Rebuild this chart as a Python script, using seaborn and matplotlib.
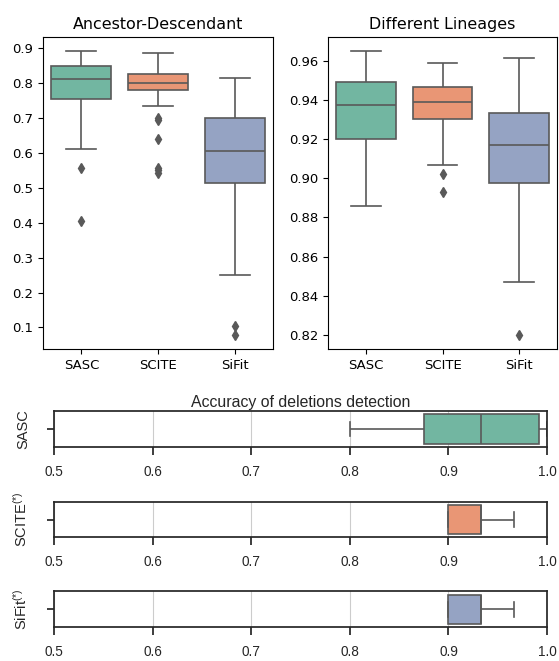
import matplotlib
matplotlib.use("Agg")
import matplotlib.pyplot as plt
import seaborn as sns
import pandas as pd

# box summaries: [whisker_lo, q1, median, q3, whisker_hi]
methods = ["SASC", "SCITE", "SiFit"]

anc_sasc = [0.612, 0.753, 0.812, 0.848, 0.891]
anc_scite = [0.734, 0.780, 0.801, 0.825, 0.887]
anc_sifit = [0.251, 0.514, 0.605, 0.699, 0.814]
anc_outliers = [[0.557, 0.406],
                [0.700, 0.694, 0.640, 0.558, 0.550, 0.541],
                [0.103, 0.079]]

lin_sasc = [0.8858, 0.9199, 0.9375, 0.9493, 0.9650]
lin_scite = [0.9066, 0.9304, 0.9389, 0.9467, 0.9591]
lin_sifit = [0.8470, 0.8977, 0.9170, 0.9333, 0.9615]
lin_outliers = [[], [0.902, 0.893], [0.820]]

del_sasc = [0.800, 0.875, 0.933, 0.992, 1.000]
del_scite = [0.900, 0.900, 0.933, 0.933, 0.967]
del_sifit = [0.900, 0.900, 0.933, 0.933, 0.967]
del_labels = ["SASC", "SCITE$^{(*)}$", "SiFit$^{(*)}$"]
del_ticks = [0.5, 0.6, 0.7, 0.8, 0.9, 1.0]


def expand(stats, outliers=(), m=20):
    """Turn a five-number summary into samples that reproduce it."""
    lo, q1, med, q3, hi = stats
    return [lo] + [q1] * m + [med] * m + [q3] * m + [hi] + list(outliers)


def to_frame(groups, outliers):
    rows = []
    for name, stats, out in zip(methods, groups, outliers):
        for v in expand(stats, out):
            rows.append({"method": name, "value": v})
    return pd.DataFrame(rows)


plt.rcParams["font.family"] = "DejaVu Sans"
plt.rcParams["font.size"] = 9.5
plt.rcParams["mathtext.fontset"] = "custom"
plt.rcParams["mathtext.rm"] = "Liberation Sans"
plt.rcParams["mathtext.it"] = "Liberation Sans"

pal = sns.color_palette("Set2", 3)
gray = (0.35, 0.35, 0.35)
flier = dict(marker="d", markerfacecolor=gray, markeredgecolor=gray, markersize=5)

fig = plt.figure(figsize=(5.59, 6.61), dpi=100)

# top row: two vertical box plots
ax1 = fig.add_axes([0.0769, 0.472, 0.4115, 0.472])
ax2 = fig.add_axes([0.5868, 0.472, 0.4096, 0.472])

for ax, groups, outs, title in [
    (ax1, [anc_sasc, anc_scite, anc_sifit], anc_outliers, "Ancestor-Descendant"),
    (ax2, [lin_sasc, lin_scite, lin_sifit], lin_outliers, "Different Lineages"),
]:
    df = to_frame(groups, outs)
    sns.boxplot(data=df, x="method", y="value", hue="method", palette=pal,
                legend=False, ax=ax, width=0.78, linewidth=1.2,
                linecolor=gray, flierprops=flier)
    ax.set_title(title, fontsize=11.4)
    ax.set_xlabel("")
    ax.set_ylabel("")

ax2.set_yticks([0.82, 0.84, 0.86, 0.88, 0.90, 0.92, 0.94, 0.96])

# bottom: three horizontal box plots, one per method
bottom_rects = [
    [0.0971, 0.3233, 0.8814, 0.0554],
    [0.0971, 0.1871, 0.8814, 0.0539],
    [0.0971, 0.0510, 0.8814, 0.0544],
]
sans = "Liberation Sans"
for i, (rect, stats, label) in enumerate(zip(bottom_rects,
                                             [del_sasc, del_scite, del_sifit],
                                             del_labels)):
    ax = fig.add_axes(rect)
    sns.boxplot(x=expand(stats), ax=ax, color=pal[i], width=0.8,
                linewidth=1.2, linecolor=gray, flierprops=flier)
    ax.set_xlim(0.5, 1.0)
    ax.set_xticks(del_ticks)
    ax.set_xticklabels([f"{t:.1f}" for t in del_ticks], fontfamily=sans,
                       fontsize=9.8, color=".15")
    ax.set_yticks([0])
    ax.set_yticklabels([""])
    ax.set_ylabel(label, fontfamily=sans, fontsize=10.5, color=".15",
                  labelpad=9)
    ax.grid(axis="x", color=".8", linewidth=0.8)
    ax.set_axisbelow(True)
    for sp in ax.spines.values():
        sp.set_color(".15")
        sp.set_linewidth(1.25)
    ax.tick_params(axis="x", length=6, width=1.25, color=".15", pad=7)
    ax.tick_params(axis="y", length=5, width=1.25, color=".15")
    if i == 0:
        ax.set_title("Accuracy of deletions detection", fontfamily=sans,
                     fontsize=11.4, color=".15", pad=3)

fig.savefig("out.png", dpi=100)
